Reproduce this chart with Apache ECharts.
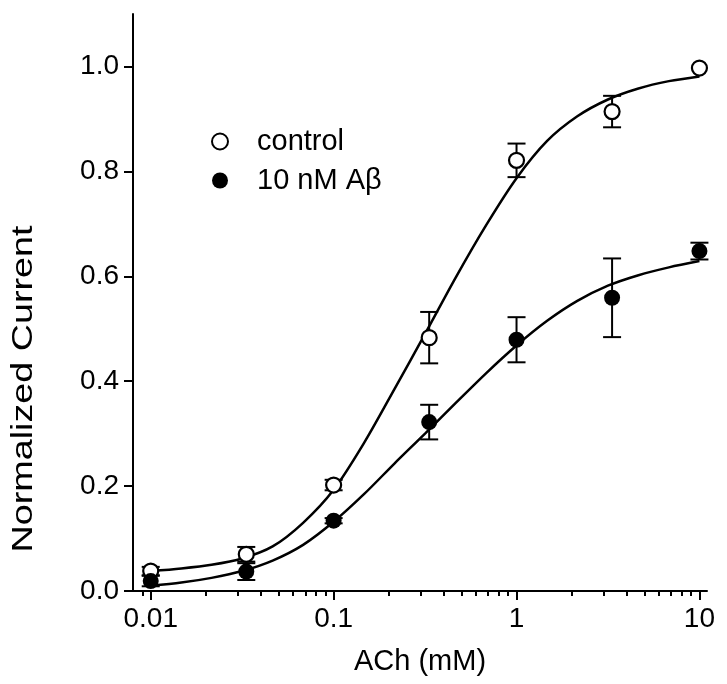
<!DOCTYPE html>
<html>
<head>
<meta charset="utf-8">
<script src="https://cdn.jsdelivr.net/npm/echarts@6/dist/echarts.min.js"></script>
<style>html,body{margin:0;padding:0;background:#fff;}#chart{width:727px;height:684px;}</style>
</head>
<body>
<div id="chart"></div>
<script>
// ---- data ----
const conc = [0.01, 0.0333, 0.1, 0.333, 1, 3.33, 10];
const controlMean = [0.038, 0.070, 0.202, 0.483, 0.821, 0.914, 0.997];
const controlErr  = [0.008, 0.014, 0.010, 0.049, 0.032, 0.030, 0.0];
const abetaMean   = [0.019, 0.037, 0.134, 0.322, 0.479, 0.559, 0.648];
const abetaErr    = [0.010, 0.016, 0.005, 0.033, 0.043, 0.075, 0.016];

// fitted curves
const fitX = [0.01, 0.0147, 0.0215, 0.0316, 0.0464, 0.0681, 0.1, 0.147, 0.215, 0.316, 0.464, 0.681, 1, 1.47, 2.15, 3.16, 4.64, 6.81, 10];
const controlFitY = [0.038, 0.043, 0.050, 0.062, 0.085, 0.130, 0.193, 0.283, 0.385, 0.490, 0.597, 0.697, 0.787, 0.858, 0.905, 0.937, 0.958, 0.972, 0.981];
const abetaFitY   = [0.010, 0.016, 0.025, 0.038, 0.058, 0.088, 0.132, 0.185, 0.243, 0.300, 0.358, 0.415, 0.468, 0.515, 0.553, 0.582, 0.602, 0.617, 0.629];

const xTickValues = [0.01, 0.1, 1, 10];
const xTickLabels = ['0.01', '0.1', '1', '10'];
const xMinorTicks = [0.009, 0.02, 0.03, 0.04, 0.05, 0.06, 0.07, 0.08, 0.09,
                     0.2, 0.3, 0.4, 0.5, 0.6, 0.7, 0.8, 0.9,
                     2, 3, 4, 5, 6, 7, 8, 9];
const yTickValues = [0, 0.2, 0.4, 0.6, 0.8, 1.0];
const yTickLabels = ['0.0', '0.2', '0.4', '0.6', '0.8', '1.0'];

const seriesNames = ['control', '10 nM A\u03b2'];
const xTitle = 'ACh (mM)';
const yTitle = 'Normalized Current';

// ---- build ----
const FONT = '"Liberation Sans", Arial, sans-serif';
function zip(a, b) { return a.map((v, i) => [v, b[i]]); }
function errData(m, e) { return conc.map((x, i) => [x, m[i] - e[i], m[i] + e[i]]); }
function nearestLabel(values, labels, v, log) {
  let best = 0, bd = Infinity;
  values.forEach((t, i) => {
    const d = log ? Math.abs(Math.log(t) - Math.log(Math.max(v, 1e-12))) : Math.abs(t - v);
    if (d < bd) { bd = d; best = i; }
  });
  return labels[best];
}
function errRender(params, api) {
  const x = api.value(0), lo = api.value(1), hi = api.value(2);
  if (hi - lo <= 0) return null;
  const p1 = api.coord([x, hi]);
  const p2 = api.coord([x, lo]);
  const cap = 9;
  const st = { stroke: '#000', lineWidth: 2 };
  return {
    type: 'group',
    children: [
      { type: 'line', shape: { x1: p1[0], y1: p1[1], x2: p2[0], y2: p2[1] }, style: st },
      { type: 'line', shape: { x1: p1[0] - cap, y1: p1[1], x2: p1[0] + cap, y2: p1[1] }, style: st },
      { type: 'line', shape: { x1: p2[0] - cap, y1: p2[1], x2: p2[0] + cap, y2: p2[1] }, style: st }
    ]
  };
}

const chart = echarts.init(document.getElementById('chart'), null, { renderer: 'canvas' });
chart.setOption({
  animation: false,
  backgroundColor: '#fff',
  grid: { left: 133, right: 20, top: 14, bottom: 93, containLabel: false },
  legend: {
    data: seriesNames,
    orient: 'vertical',
    left: 206,
    top: 122,
    itemWidth: 16,
    itemHeight: 16,
    itemGap: 10,
    textStyle: { fontFamily: FONT, fontSize: 29, color: '#000', padding: [0, 0, 0, 24] },
    icon: 'circle'
  },
  graphic: [{
    type: 'text',
    x: 24, y: 389,
    rotation: Math.PI / 2,
    scaleX: 1.3,
    style: { text: yTitle, fontFamily: FONT, fontSize: 29, fill: '#000', align: 'center', verticalAlign: 'middle' }
  }],
  xAxis: [
    {
      type: 'log', logBase: 10, min: 0.008, max: 11,
      name: xTitle, nameLocation: 'middle', nameGap: 56,
      nameTextStyle: { fontFamily: FONT, fontSize: 29, color: '#000' },
      axisLine: { show: true, lineStyle: { color: '#000', width: 2 } },
      axisTick: { show: true, customValues: xTickValues, length: 9, lineStyle: { color: '#000', width: 2 } },
      axisLabel: { customValues: xTickValues, margin: 14, fontFamily: FONT, fontSize: 28, color: '#000',
        formatter: v => nearestLabel(xTickValues, xTickLabels, v, true) },
      splitLine: { show: false }, minorTick: { show: false }
    },
    {
      type: 'log', logBase: 10, min: 0.008, max: 11, position: 'bottom', offset: 0,
      axisLine: { show: false },
      axisTick: { show: true, customValues: xMinorTicks, length: 5, lineStyle: { color: '#000', width: 2 } },
      axisLabel: { show: false },
      splitLine: { show: false }
    }
  ],
  yAxis: {
    type: 'value', min: 0, max: 1.1,
    axisLine: { show: true, lineStyle: { color: '#000', width: 2 } },
    axisTick: { show: true, customValues: yTickValues, length: 9, lineStyle: { color: '#000', width: 2 } },
    axisLabel: { customValues: yTickValues, margin: 14, fontFamily: FONT, fontSize: 28, color: '#000',
      formatter: v => nearestLabel(yTickValues, yTickLabels, v, false) },
    splitLine: { show: false }
  },
  series: [
    { name: 'controlFit', type: 'line', smooth: 0.3, symbol: 'none', data: zip(fitX, controlFitY),
      lineStyle: { color: '#000', width: 2.5 }, z: 2, silent: true },
    { name: 'abetaFit', type: 'line', smooth: 0.3, symbol: 'none', data: zip(fitX, abetaFitY),
      lineStyle: { color: '#000', width: 2.5 }, z: 2, silent: true },
    { name: 'controlErr', type: 'custom', renderItem: errRender, data: errData(controlMean, controlErr),
      encode: { x: 0, y: [1, 2] }, z: 3 },
    { name: 'abetaErr', type: 'custom', renderItem: errRender, data: errData(abetaMean, abetaErr),
      encode: { x: 0, y: [1, 2] }, z: 3 },
    { name: seriesNames[0], type: 'scatter', data: zip(conc, controlMean), symbol: 'circle', symbolSize: 15,
      itemStyle: { color: '#fff', borderColor: '#000', borderWidth: 2.2, opacity: 1 }, z: 5 },
    { name: seriesNames[1], type: 'scatter', data: zip(conc, abetaMean), symbol: 'circle', symbolSize: 16,
      itemStyle: { color: '#000', borderColor: '#000', borderWidth: 0, opacity: 1 }, z: 5 }
  ]
});
</script>
</body>
</html>
